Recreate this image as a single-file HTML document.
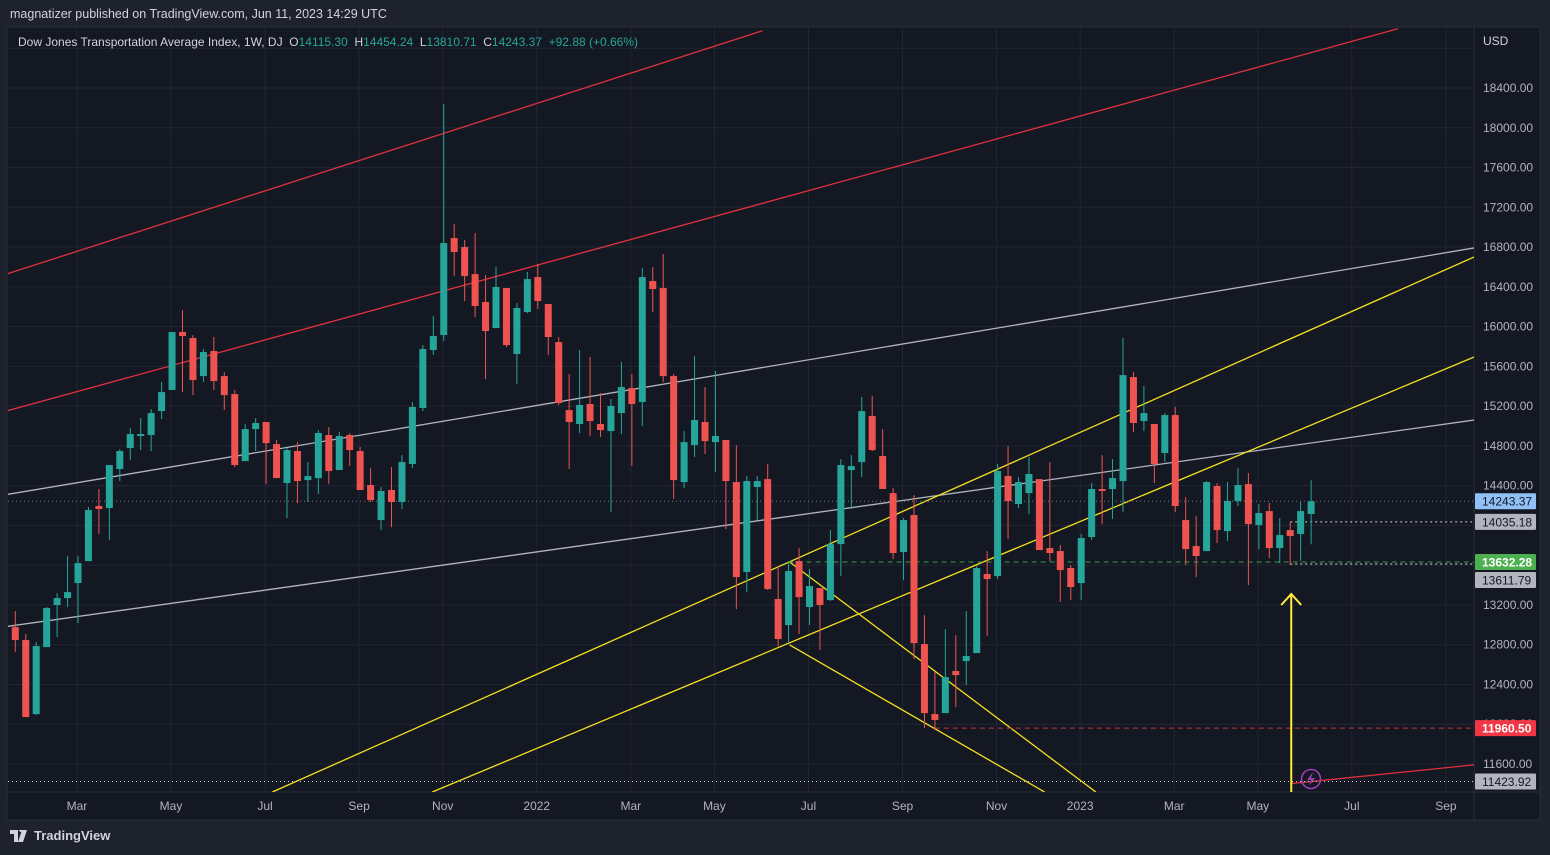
<!DOCTYPE html>
<html><head><meta charset="utf-8"><style>
html,body{margin:0;padding:0;background:#1e222d;width:1550px;height:855px;overflow:hidden;font-family:"Liberation Sans",sans-serif;}
#hdr{position:absolute;left:10px;top:7px;color:#d1d4dc;font-size:12.5px;}
#foot{position:absolute;left:10px;top:828px;color:#d1d4dc;font-size:13px;font-weight:bold;display:flex;align-items:center;gap:4px;}
svg{position:absolute;left:0;top:0;}
</style></head><body>
<div id="hdr">magnatizer published on TradingView.com, Jun 11, 2023 14:29 UTC</div>
<svg id="chart" width="1550" height="855"></svg>
<div id="foot"><svg style="position:static" width="20" height="12" viewBox="0 0 20 12"><path d="M0 0h8v12H4V4H0z M9 0a2 2 0 1 1 0 .01z M12 0h5l-4 12h-5z" fill="#d1d4dc"/></svg>TradingView</div>
<script>
const opens=[12977,12847,12102,12776,13199,13269,13420,13641,14195,14175,14567,14778,14899,14909,15150,15362,15945,15885,15502,15754,15502,15321,14647,14969,15040,14818,14426,14748,14456,14476,14909,14557,14909,14748,14406,14054,14356,14235,14617,15181,15764,15915,16891,16800,16528,16247,15985,16388,15724,16146,16498,16227,15844,15160,15020,15221,15020,14949,15130,15382,15241,16458,16388,15502,14436,14808,15040,14838,14859,14436,13531,14386,14466,13259,12997,13641,13179,13370,13249,13812,14557,14637,15100,14698,14325,13732,14104,12806,12102,12112,12535,12635,12716,13511,13490,14496,14215,14325,14466,13772,13742,13571,13420,13883,14366,14366,14446,15492,15050,15020,14728,15110,14054,13792,13742,14396,13943,14245,14416,14003,14144,13772,13953,13913,14115];
const highs=[13138,12907,12826,13179,13319,13692,13692,14185,14366,14607,14768,14979,15080,15170,15442,15945,16166,15915,15774,15895,15543,15362,15020,15080,15040,14859,14778,14838,14637,14959,14989,14939,14929,14788,14577,14386,14587,14708,15241,15814,16106,18239,17032,16871,16941,16518,16599,16388,16237,16549,16629,16227,15895,15523,15764,15694,15331,15271,15643,15523,16589,16599,16730,15523,14949,15704,15392,15553,14859,14808,14496,14496,14617,13591,13641,13772,13561,13370,13953,14667,14708,15291,15301,14969,14376,14074,14305,13098,12525,12957,12897,13138,13601,13742,14617,14798,14486,14688,14466,14637,13802,13601,13913,14426,14708,14667,15885,15543,15402,15020,15130,15191,14285,14094,14446,14426,14436,14577,14527,14215,14225,14074,14034,14235,14454];
const lows=[12726,12072,12092,12776,12877,13179,13018,13641,13913,13853,14446,14657,14758,14748,15070,15362,15341,15311,15442,15362,15160,14587,14647,14748,14416,14476,14074,14225,14235,14315,14416,14557,14597,14356,14235,13953,13983,14164,14577,15150,15714,15855,16508,16257,16096,15472,15985,15794,15422,16136,16177,15714,15211,14567,14929,14899,14889,14134,14919,14597,14999,16146,15442,14265,14376,14688,14718,14537,13963,13158,13329,14054,13350,12786,12826,12907,12997,12746,13239,13490,14164,14486,14748,14366,13661,13450,12655,11961,11941,12112,12173,12394,12716,12887,13460,13863,14175,14114,13752,13641,13229,13249,13249,13853,14014,14064,14134,14939,14949,14426,14637,14134,13601,13480,13742,13822,13843,14195,13400,13762,13672,13621,13601,13641,13810];
const closes=[12847,12072,12786,13169,13269,13329,13621,14154,14165,14607,14748,14919,14919,15130,15341,15945,15905,15462,15744,15452,15311,14607,14969,15030,14828,14476,14758,14446,14496,14929,14547,14899,14758,14356,14255,14346,14235,14637,15191,15774,15905,16840,16750,16508,16207,15955,16398,15814,16187,16478,16257,15895,15231,15040,15211,15050,14959,15201,15392,15221,16498,16378,15502,14456,14838,15060,14848,14899,14446,13480,14446,14446,13360,12857,13541,13279,13390,13199,13812,14607,14597,15150,14758,14366,13722,14054,12816,12112,12042,12474,12494,12686,13571,13461,14547,14245,14436,14517,13752,13722,13551,13380,13873,14366,14346,14476,15512,15030,15130,14617,15110,14195,13762,13692,14436,13953,14245,14406,14014,14124,13772,13903,13893,14144,14243];
const yTicks=[11600,12000,12400,12800,13200,13600,14000,14400,14800,15200,15600,16000,16400,16800,17200,17600,18000,18400,18800];
const monthLabels=["Mar","May","Jul","Sep","Nov","2022","Mar","May","Jul","Sep","Nov","2023","Mar","May","Jul","Sep"];
const monthIdx=[5.9,14.9,23.9,32.9,40.9,49.9,58.9,66.9,75.9,84.9,93.9,101.9,110.9,118.9,127.9,136.9];
const trendLines=[
 {i1:-0.5,p1:16540,i2:71.5,p2:18976,c:"#e0313d",ext:true},
 {i1:-0.5,p1:15161,i2:132.3,p2:18996,c:"#e0313d",ext:true},
 {i1:122,p1:11402,i2:139.6,p2:11591,c:"#e0313d",ext:false},
 {i1:-0.5,p1:14316,i2:139.6,p2:16791,c:"#b2b5be",ext:true},
 {i1:-0.5,p1:12988,i2:139.6,p2:15060,c:"#b2b5be",ext:true},
 {i1:24.6,p1:11318,i2:139.6,p2:16700,c:"#f5e11e",ext:false},
 {i1:39.9,p1:11318,i2:139.6,p2:15694,c:"#f5e11e",ext:false},
 {i1:74.1,p1:13632,i2:103.4,p2:11318,c:"#f5e11e",ext:false},
 {i1:74.1,p1:12797,i2:98.5,p2:11318,c:"#f5e11e",ext:false}];
const hLevels=[14243.37,14035.18,13632.28,13611.79,11960.50,11423.92];
const hStart=[-1,122,74,122,88,-1];
const hColor=["#787b86","#d1d4dc","#3a9a48","#d1d4dc","#c8303c","#d1d4dc"];
const hDash=["1,3","2,3","5,4","2,3","5,4","1,3"];
const hLabelBg=["#8fc1f7","#b2b5be","#4caf50","#b2b5be","#f23645","#b2b5be"];
const hLabelFg=["#131722","#131722","#ffffff","#131722","#ffffff","#131722"];
const hLabelShift=[0,0,0,16,0,0];

const svg=document.getElementById('chart');
const NS="http://www.w3.org/2000/svg";
const PL=8,PR=1474,PT=28,PB=792;
function X(i){return 15.3+i*10.45;}
function Y(v){return 88+(18400-v)*0.09941;}
function mk(t,a,parent){const e=document.createElementNS(NS,t);for(const k in a)e.setAttribute(k,a[k]);(parent||svg).appendChild(e);return e;}

let e;
e=mk('rect',{x:7,y:27,width:1533,height:793,fill:'#141823',stroke:'#2a2e39'});


mk('line',{x1:PR,y1:27,x2:PR,y2:820,stroke:'#2a2e39'});
mk('line',{x1:7,y1:PB,x2:1540,y2:PB,stroke:'#2a2e39'});
const defs=mk('defs',{});
const cp=mk('clipPath',{id:'plot'},defs);mk('rect',{x:PL,y:PT,width:PR-PL,height:PB-PT},cp);
const g=mk('g',{'clip-path':'url(#plot)'});


yTicks.forEach(v=>{mk('line',{x1:PL,x2:PR,y1:Y(v),y2:Y(v),stroke:'#222632'},g);});
monthIdx.forEach(i=>{mk('line',{x1:X(i),x2:X(i),y1:PT,y2:PB,stroke:'#222632'},g);});
trendLines.forEach(t=>{let x1=X(t.i1),y1=Y(t.p1);const x2=X(t.i2),y2=Y(t.p2);const s=(y2-y1)/(x2-x1);
 if(t.ext){x1-=600;y1-=600*s;}
 const l=mk('line',{x1:x1,y1:y1,x2:x2,y2:y2,stroke:t.c,'stroke-width':1.3},g);
 
 
});
hLevels.forEach((v,k)=>{const l=mk('line',{x1:hStart[k]<0?PL:X(hStart[k]),x2:PR,y1:Y(v),y2:Y(v),stroke:hColor[k],'stroke-dasharray':hDash[k]},g);
 
 });
for(let i=0;i<opens.length;i++){const up=closes[i]>=opens[i];const c=up?'#26a69a':'#ef5350';
 const cg=mk('g',{},g);
 
 
 mk('line',{x1:X(i),x2:X(i),y1:Y(highs[i]),y2:Y(lows[i]),stroke:c,'stroke-width':1},cg);
 const t=Y(Math.max(opens[i],closes[i])),b=Y(Math.min(opens[i],closes[i]));
 mk('rect',{x:X(i)-3.5,y:t,width:7,height:Math.max(1,b-t),fill:c},cg);}
const ax=X(122.1),ay=Y(13310);
e=mk('path',{d:`M${ax} ${PB} L${ax} ${ay} M${ax-10} ${ay+11} L${ax} ${ay} L${ax+10} ${ay+11}`,stroke:'#ffeb3b','stroke-width':2,fill:'none'},g);


const ig=mk('g',{});


mk('circle',{cx:1311,cy:779,r:9.5,fill:'none',stroke:'#9c3fb5','stroke-width':1.6},ig);
mk('path',{d:'M1313 772 L1307 780 L1311 780 L1309 786 L1315 778 L1311 778 Z',fill:'#9c3fb5'},ig);
yTicks.forEach(v=>{const y=Y(v);if(y<60)return;const t=mk('text',{x:1483,y:y+4,fill:'#b2b5be','font-size':12});t.textContent=v.toFixed(2);
 
 });
e=mk('rect',{x:1475,y:28,width:64,height:26,fill:'#141823'});
e=mk('text',{x:1483,y:45,fill:'#d1d4dc','font-size':12});e.textContent='USD';


hLevels.forEach((v,k)=>{const y=Y(v)+hLabelShift[k];const r=mk('rect',{x:1475,y:y-8,width:61,height:16,fill:hLabelBg[k],rx:1});
 
 
 const t=mk('text',{x:1482,y:y+4.5,fill:hLabelFg[k],'font-size':12,'font-weight':(k==2||k==4)?'bold':'normal'});t.textContent=v.toFixed(2);});
monthLabels.forEach((m,k)=>{const t=mk('text',{x:X(monthIdx[k]),y:810,fill:'#b2b5be','font-size':12,'text-anchor':'middle'});t.textContent=m;
 
 });
const lg=mk('text',{x:18,y:46,'font-size':12,fill:'#d1d4dc'});


const parts=[["Dow Jones Transportation Average Index, 1W, DJ  ","#d1d4dc"],["O","#d1d4dc"],["14115.30  ","#26a69a"],["H","#d1d4dc"],["14454.24  ","#26a69a"],["L","#d1d4dc"],["13810.71  ","#26a69a"],["C","#d1d4dc"],["14243.37  ","#26a69a"],["+92.88 (+0.66%)","#26a69a"]];
parts.forEach(p=>{const s=mk('tspan',{fill:p[1]},lg);s.textContent=p[0];});
lg.setAttribute('xml:space','preserve');
lg.style.whiteSpace='pre';
</script>
</body></html>
